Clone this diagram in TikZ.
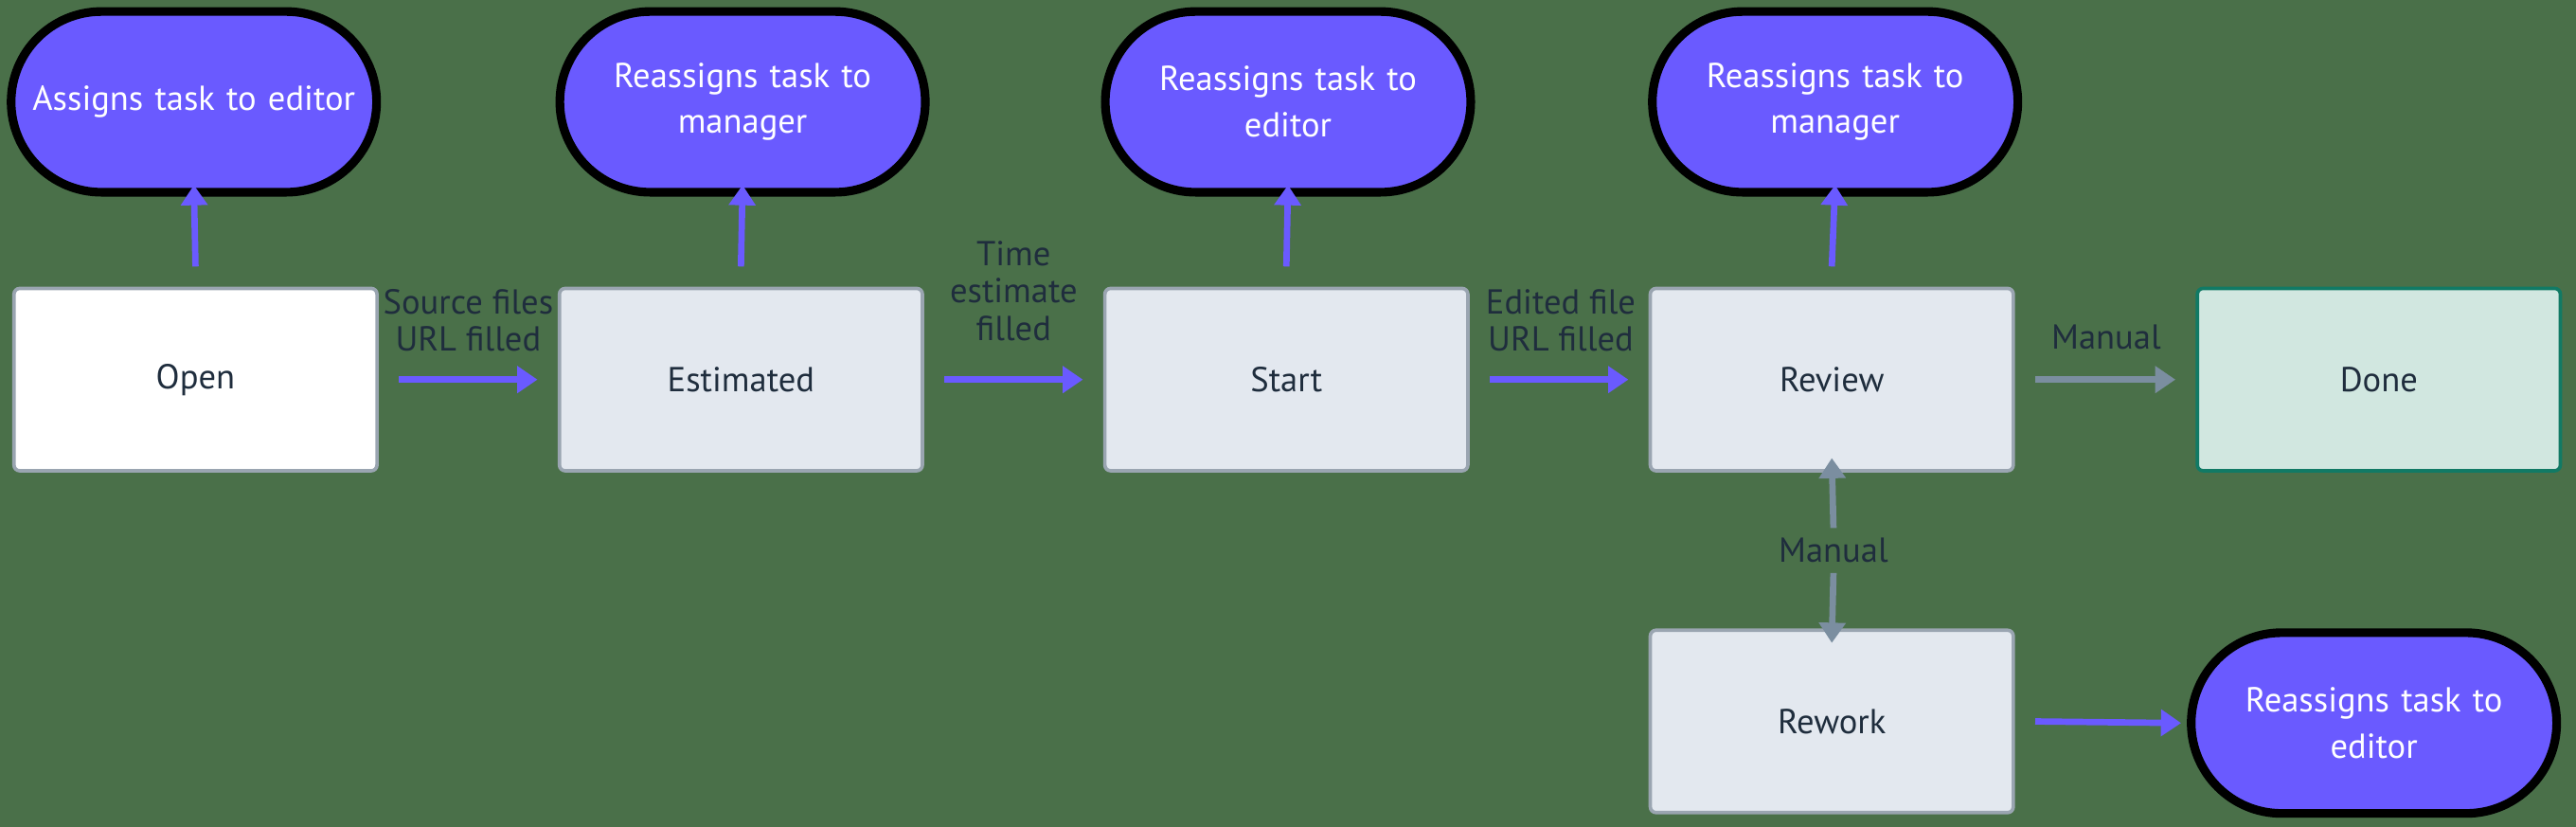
\documentclass[tikz,border=0pt]{standalone}
\usepackage{fontspec}
\setmainfont{PT Sans}
\usetikzlibrary{arrows.meta}
\definecolor{bggreen}{HTML}{4A7049}
\definecolor{pill}{HTML}{6A5AFF}
\definecolor{boxfill}{HTML}{E3E8EF}
\definecolor{boxline}{HTML}{9AA5B1}
\definecolor{donefill}{HTML}{D1E7E0}
\definecolor{doneline}{HTML}{117A65}
\definecolor{ink}{HTML}{1F2D3D}
\definecolor{grayarrow}{HTML}{7B8EA0}
\tikzset{
    state/.style = {draw = boxline, fill = boxfill, line width = 1.2pt, rounded corners = 2pt,
        minimum width = 4.42cm, minimum height = 2.22cm, text = ink, font = \large},
    action/.style = {draw = black, fill = pill, line width = 3pt, rounded corners = 1.1cm,
        minimum width = 4.45cm, minimum height = 2.2cm, text = white, font = \large,
        align = center, text width = 4cm},
    flow/.style = {-{Triangle[length = 7pt, width = 9pt]}, line width = 2.2pt, pill},
    manual/.style = {-{Triangle[length = 7pt, width = 9pt]}, line width = 2.2pt, grayarrow},
    lbl/.style = {text = ink, font = \large, align = center}
}
\begin{document}
\begin{tikzpicture}[x = 0.02cm, y = -0.02cm]
    \useasboundingbox[fill = bggreen] (0,0) rectangle (1568,503);
    % states
    \node[state, fill = white] (open) at (119,231) {Open};
    \node[state] (estimated) at (451,231) {Estimated};
    \node[state] (start) at (783,231) {Start};
    \node[state] (review) at (1115,231) {Review};
    \node[state, fill = donefill, draw = doneline] (done) at (1448,231) {Done};
    \node[state] (rework) at (1115,439) {Rework};
    % actions
    \node[action] (a1) at (118,62) {Assigns task to editor};
    \node[action] (a2) at (452,62) {Reassigns task to\\[2pt] manager};
    \node[action] (a3) at (784,62) {Reassigns task to\\[2pt] editor};
    \node[action] (a4) at (1117,62) {Reassigns task to\\[2pt] manager};
    \node[action] (a5) at (1445,440) {Reassigns task to\\[2pt] editor};
    % up arrows
    \foreach \s/\a in {open/a1, estimated/a2, start/a3, review/a4} {
        \draw[flow] ([yshift = 7pt]\s.north) -- ([yshift = 4pt]\a.south);
    }
    % transitions
    \draw[flow] ([xshift = 7pt]open.east) -- ([xshift = -7pt]estimated.west);
    \draw[flow] ([xshift = 7pt]estimated.east) -- ([xshift = -7pt]start.west);
    \draw[flow] ([xshift = 7pt]start.east) -- ([xshift = -7pt]review.west);
    \draw[manual] ([xshift = 7pt]review.east) -- ([xshift = -7pt]done.west);
    \draw[flow] ([xshift = 7pt]rework.east) -- ([xshift = -2pt]a5.west);
    \node[lbl] (l1) at (285,195) {Source files\\[-1pt] URL filled};
    \node[lbl] (l2) at (617,177) {Time\\[-1pt] estimate\\[-1pt] filled};
    \node[lbl] (l3) at (950,195) {Edited file\\[-1pt] URL filled};
    \node[lbl] (l4) at (1282,205) {Manual};
    \node[lbl] (l5) at (1116,335) {Manual};
    \draw[manual] (l5.north) -- ([yshift = 5pt]review.south);
    \draw[manual] (l5.south) -- ([yshift = -5pt]rework.north);
\end{tikzpicture}
\end{document}
